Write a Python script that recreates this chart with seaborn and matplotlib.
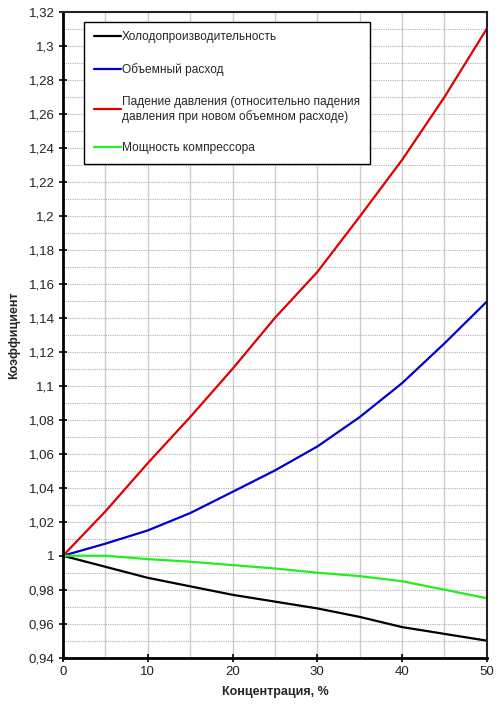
import seaborn as sns
import pandas as pd
import matplotlib.pyplot as plt
from matplotlib.ticker import MultipleLocator, FuncFormatter

concentration = [0, 5, 10, 15, 20, 25, 30, 35, 40, 45, 50]

cooling = [1.0, 0.9935, 0.987, 0.982, 0.977, 0.973, 0.969, 0.964, 0.958, 0.954, 0.950]
volume_flow = [1.0, 1.0071, 1.0149, 1.0251, 1.0376, 1.0502, 1.0643, 1.0816, 1.1016, 1.125, 1.1496]
pressure_drop = [1.0, 1.0261, 1.0545, 1.0816, 1.110, 1.140, 1.167, 1.1996, 1.233, 1.270, 1.3103]
compressor = [1.0, 1.0, 0.998, 0.9965, 0.9945, 0.9925, 0.990, 0.988, 0.985, 0.980, 0.975]

series_names = [
    "Холодопроизводительность",
    "Объемный расход",
    "Падение давления (относительно падения\nдавления при новом объемном расходе)",
    "Мощность компрессора",
]
series_colors = ["#000000", "#0000cc", "#e00000", "#22ee22"]


def make_frame():
    parts = []
    for name, vals in zip(series_names, [cooling, volume_flow, pressure_drop, compressor]):
        parts.append(pd.DataFrame({"x": concentration, "y": vals, "series": name}))
    return pd.concat(parts, ignore_index=True)


def excel_fmt(v, pos):
    s = f"{v:.2f}".rstrip("0").rstrip(".")
    return s.replace(".", ",")


sns.set_theme(style="white")
plt.rcParams["font.family"] = ["Liberation Sans", "DejaVu Sans"]

fig, ax = plt.subplots(figsize=(5.04, 7.11), dpi=100)
fig.subplots_adjust(left=0.125, right=0.966, top=0.983, bottom=0.075)

df = make_frame()
sns.lineplot(
    data=df, x="x", y="y", hue="series", hue_order=series_names,
    palette=series_colors, linewidth=1.6, ax=ax,
)

ax.set_xlim(0, 50)
ax.set_ylim(0.94, 1.32)

ax.xaxis.set_major_locator(MultipleLocator(10))
ax.xaxis.set_minor_locator(MultipleLocator(5))
ax.yaxis.set_major_locator(MultipleLocator(0.02))
ax.yaxis.set_minor_locator(MultipleLocator(0.01))
ax.yaxis.set_major_formatter(FuncFormatter(excel_fmt))

# grid: solid vertical every 5, dotted horizontal every 0.01
ax.grid(True, which="both", axis="x", color="#cccccc", linewidth=1, linestyle="-")
ax.grid(True, which="both", axis="y", color="#b0b0b0", linewidth=0.8, linestyle=(0, (1, 1)))
ax.set_axisbelow(True)

ax.tick_params(axis="both", which="major", direction="inout", length=6, width=1.2,
               color="black", labelsize=9.5, labelcolor="#222222", pad=3, left=True, bottom=True)
ax.tick_params(axis="both", which="minor", length=0)

for side in ["left", "bottom"]:
    ax.spines[side].set_color("black")
    ax.spines[side].set_linewidth(2)
for side in ["top", "right"]:
    ax.spines[side].set_color("#222222")
    ax.spines[side].set_linewidth(1.5)

ax.set_xlabel("Концентрация, %", fontsize=9, fontweight="bold", labelpad=6)
ax.set_ylabel("Коэффициент", fontsize=9, fontweight="bold", labelpad=6)

leg = ax.legend(
    loc="upper left", bbox_to_anchor=(0.0495, 0.985), borderaxespad=0, fontsize=8.6,
    frameon=True, fancybox=False, edgecolor="black", framealpha=1,
    handlelength=2.3, handletextpad=0.1, labelspacing=1.65,
    borderpad=0.8, title=None,
)
leg.get_frame().set_linewidth(1)

fig.savefig("out.png", dpi=100)
